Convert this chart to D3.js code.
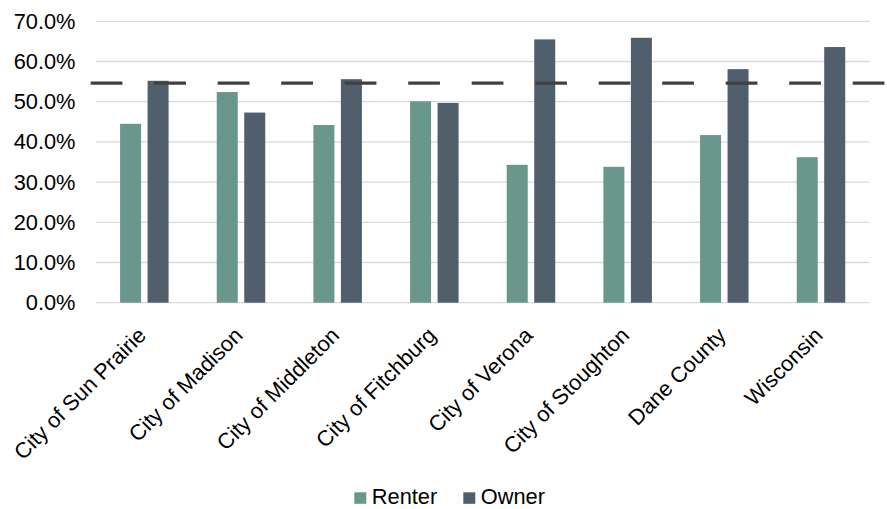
<!DOCTYPE html>
<html>
<head>
<meta charset="utf-8">
<script src="https://cdn.jsdelivr.net/npm/d3@7"></script>
<style>
  html, body { margin: 0; padding: 0; background: #fff; }
  svg { display: block; }
  text { font-family: "Liberation Sans", Arial, sans-serif; fill: #000; }
</style>
</head>
<body>
<svg id="chart" width="887" height="509"></svg>
<script>
const categories = ["City of Sun Prairie", "City of Madison", "City of Middleton", "City of Fitchburg",
                    "City of Verona", "City of Stoughton", "Dane County", "Wisconsin"];
const seriesNames = ["Renter", "Owner"];
const renter = [0.445, 0.524, 0.442, 0.501, 0.343, 0.338, 0.417, 0.362];
const owner  = [0.552, 0.473, 0.556, 0.497, 0.655, 0.659, 0.581, 0.636];
const benchmark = 0.546;
const yTicks = [0, 0.1, 0.2, 0.3, 0.4, 0.5, 0.6, 0.7];
const colors = ["#6A978B", "#515F6C"];

const FS = 21.8;
const svg = d3.select("#chart");
const plot = { left: 96, right: 869.3, top: 21.3, bottom: 302.7 };

const x = d3.scaleBand().domain(categories).range([plot.left, plot.right]).paddingInner(0).paddingOuter(0);
const bw = x.bandwidth();
const xs = d3.scaleBand().domain(seriesNames)
  .range([bw / 2 - 24.25, bw / 2 + 24.25]).paddingInner(0.236).paddingOuter(0);
const y = d3.scaleLinear().domain([0, 0.7]).range([plot.bottom, plot.top]);

// gridlines
svg.append("g").selectAll("line").data(yTicks).join("line")
  .attr("x1", plot.left).attr("x2", plot.right)
  .attr("y1", d => y(d)).attr("y2", d => y(d))
  .attr("stroke", "#D9D9D9").attr("stroke-width", 1.3);

// y axis labels
const yAxis = d3.axisLeft(y).tickValues(yTicks).tickFormat(d3.format(".1%")).tickSize(0).tickPadding(0);
const gy = svg.append("g").attr("transform", `translate(${75.5},0)`).call(yAxis);
gy.select(".domain").remove();
gy.selectAll("text").attr("font-size", FS).attr("fill", "#000")
  .style("font-family", '"Liberation Sans", Arial, sans-serif');

// bars
const data = categories.map((c, i) => ({ cat: c, vals: [renter[i], owner[i]] }));
const groups = svg.append("g").selectAll("g").data(data).join("g")
  .attr("transform", d => `translate(${x(d.cat)},0)`);
groups.selectAll("rect").data(d => d.vals.map((v, j) => ({ s: seriesNames[j], v, j })))
  .join("rect")
  .attr("x", d => xs(d.s)).attr("width", xs.bandwidth())
  .attr("y", d => y(d.v)).attr("height", d => y(0) - y(d.v))
  .attr("fill", d => colors[d.j]);

// benchmark dashed line
svg.append("line")
  .attr("x1", 90.7).attr("x2", 885)
  .attr("y1", y(benchmark)).attr("y2", y(benchmark))
  .attr("stroke", "#404040").attr("stroke-width", 3.3)
  .attr("stroke-dasharray", "31.75 31.75");

// x axis labels
const xAxis = d3.axisBottom(x).tickSize(0).tickPadding(0);
const gx = svg.append("g").attr("transform", `translate(0,${plot.bottom})`).call(xAxis);
gx.select(".domain").remove();
gx.selectAll("text")
  .attr("font-size", FS).attr("fill", "#000")
  .style("font-family", '"Liberation Sans", Arial, sans-serif')
  .attr("text-anchor", "end")
  .attr("dy", null).attr("y", null)
  .attr("transform", "translate(3,34) rotate(-45)");

// legend
const legend = svg.append("g");
const legendX = [354.3, 463.3];
seriesNames.forEach((s, i) => {
  legend.append("rect").attr("x", legendX[i]).attr("y", 492.3).attr("width", 12).attr("height", 11.5)
    .attr("fill", colors[i]);
  legend.append("text").attr("x", legendX[i] + 17.5).attr("y", 504.3).attr("font-size", FS).text(s);
});
</script>
</body>
</html>
